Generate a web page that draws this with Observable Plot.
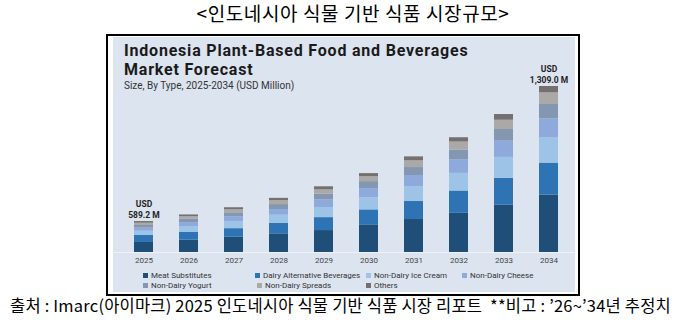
<!DOCTYPE html>
<html>
<head>
<meta charset="utf-8">
<script src="https://cdn.jsdelivr.net/npm/d3@7"></script>
<script src="https://cdn.jsdelivr.net/npm/@observablehq/plot@0.6"></script>
<style>
  html, body { margin: 0; padding: 0; background: #fff; }
  body { width: 696px; height: 323px; position: relative; overflow: hidden; }
  .abs { position: absolute; }
  #title { left: 5px; top: 2px; width: 696px; text-align: center; font: 19px/22px "Noto Sans CJK KR", sans-serif; letter-spacing: 0.6px; color: #000; white-space: nowrap; }
  #box { left: 106px; top: 34px; width: 474px; height: 262px; border: 2px solid #000; box-sizing: border-box; }
  #panel { left: 113px; top: 37px; width: 462px; height: 255px; background: #dce4f0; }
  .ctitle { left: 124px; font: bold 16px/18px Roboto, sans-serif; letter-spacing: 0.8px; color: #1a1a1a; white-space: nowrap; }
  #csub { left: 124px; top: 79.5px; font: 10px/11px Roboto, sans-serif; color: #333; white-space: nowrap; }
  #caption { left: 10px; top: 296px; font: 16.5px/19px "Noto Sans CJK KR", sans-serif; letter-spacing: 0.2px; color: #000; white-space: pre; }
  .leg { font: 8px/9px Roboto, sans-serif; color: #333; display: flex; align-items: center; white-space: nowrap; }
  .leg i { display: inline-block; width: 5px; height: 5px; margin-right: 3px; }
  #chart { left: 0; top: 0; }
</style>
</head>
<body>
<div id="title" class="abs">&lt;인도네시아 식물 기반 식품 시장규모&gt;</div>
<div id="box" class="abs"></div>
<div id="panel" class="abs"></div>
<div class="abs ctitle" style="top:41.5px">Indonesia Plant-Based Food and Beverages</div>
<div class="abs ctitle" style="top:60.5px">Market Forecast</div>
<div id="csub" class="abs">Size, By Type, 2025-2034 (USD Million)</div>
<div id="chart" class="abs"></div>
<div id="legend"></div>
<div id="caption" class="abs">출처 : Imarc(아이마크) 2025 인도네시아 식물 기반 식품 시장 리포트  **비고 : ’26~’34년 추정치</div>
<script>
const years = [2025, 2026, 2027, 2028, 2029, 2030, 2031, 2032, 2033, 2034];
const segments = ["Meat Substitutes", "Dairy Alternative Beverages", "Non-Dairy Ice Cream", "Non-Dairy Cheese", "Non-Dairy Yogurt", "Non-Dairy Spreads", "Others"];
const meat      = [79, 97, 120, 147, 173, 218, 260, 309, 375, 453];
const dairyBev  = [55, 61, 68, 84, 102, 118, 142, 176, 210, 252];
const iceCream  = [34, 47, 57, 63, 79, 97, 118, 139, 165, 199];
const cheese    = [24, 31, 37, 45, 61, 71, 87, 108, 128, 150];
const yogurt    = [21, 26, 31, 39, 45, 55, 63, 76, 92, 113];
const spreads   = [18, 21, 24, 31, 34, 39, 53, 63, 73, 92];
const others    = [13, 13, 16, 18, 24, 24, 31, 34, 45, 50];
const colors = ["#1f4e79", "#2e74b5", "#9dc3e6", "#8eaadc", "#8497b0", "#aca8a8", "#747070"];
const calloutYears = [2025, 2034];
const calloutLabels = ["USD\n589.2 M", "USD\n1,309.0 M"];

const seriesValues = [meat, dairyBev, iceCream, cheese, yogurt, spreads, others];
const table = [];
segments.forEach((s, si) => years.forEach((y, yi) => table.push({year: y, type: s, value: seriesValues[si][yi]})));
const totals = years.map((y, yi) => d3.sum(seriesValues, arr => arr[yi]));
const callouts = calloutYears.map((y, i) => ({year: y, total: totals[years.indexOf(y)], label: calloutLabels[i]}));

const chart = Plot.plot({
  width: 696,
  height: 323,
  marginLeft: 102,
  marginRight: 107,
  marginTop: 86,
  marginBottom: 71,
  style: {background: "transparent", fontFamily: "Roboto, sans-serif"},
  x: {type: "band", domain: years, padding: 0.587, label: null, tickSize: 0, tickPadding: 5, tickFormat: d => String(d)},
  y: {domain: [0, d3.max(totals)], axis: null},
  color: {domain: segments, range: colors},
  marks: [
    Plot.ruleY([0], {stroke: "#eef2f8", strokeWidth: 1, insetLeft: 10, insetRight: 14}),
    Plot.barY(table, {x: "year", y: "value", fill: "type", inset: 0}),
    Plot.text(callouts, {x: "year", y: "total", text: "label", lineAnchor: "bottom", lineHeight: 1.2, dy: -4, fontWeight: "bold", fontSize: 8.5, fill: "#1e1e1e"}),
    Plot.axisX({tickSize: 0, tickPadding: 5, fontSize: 8, fill: "#444", label: null, tickFormat: d => String(d)})
  ]
});
document.getElementById("chart").appendChild(chart);

// legend
const legPos = [[143, 275.7], [255, 275.7], [366, 275.7], [462, 275.7], [143, 285], [257, 285], [366, 285]];
const leg = document.getElementById("legend");
segments.forEach((s, i) => {
  const d = document.createElement("div");
  d.className = "leg abs";
  d.style.left = legPos[i][0] + "px";
  d.style.top = (legPos[i][1] - 4.5) + "px";
  d.innerHTML = `<i style="background:${colors[i]}"></i>${s}`;
  leg.appendChild(d);
});
</script>
</body>
</html>
